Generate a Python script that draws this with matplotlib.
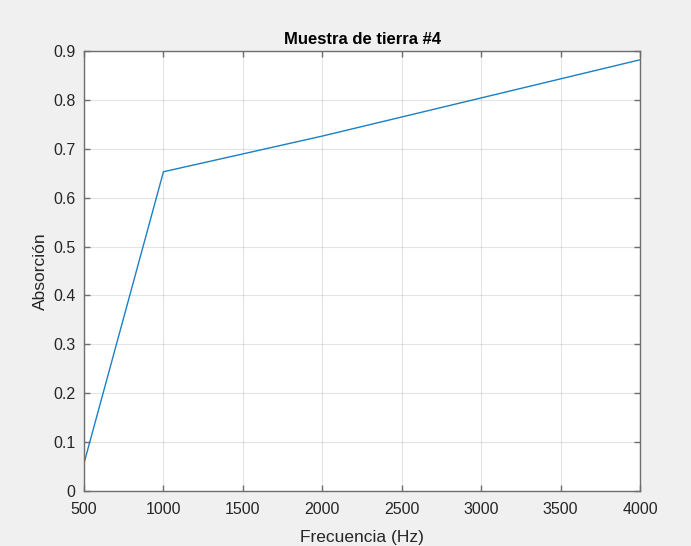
import numpy as np
import matplotlib.pyplot as plt

plt.rcParams['font.family'] = ['Liberation Sans', 'DejaVu Sans']

# Coeficiente de absorción por banda de octava
frecuencia = [500, 1000, 2000, 4000]
absorcion = [0.057, 0.653, 0.726, 0.882]

fig = plt.figure(figsize=(6.91, 5.46), dpi=100, facecolor='#f0f0f0')
ax = fig.add_axes([0.1216, 0.1007, 0.8046, 0.8059])
ax.set_facecolor('white')

ax.plot(frecuencia, absorcion, color='#1a80c4', linewidth=1.0)

ax.set_xlim(500, 4000)
ax.set_ylim(0, 0.9)
ax.set_xticks(np.arange(500, 4001, 500))
ax.set_yticks(np.arange(0, 0.91, 0.1))
ax.set_yticklabels(['0'] + [f'{v:.1f}' for v in np.arange(0.1, 0.91, 0.1)])

ax.grid(True, color='#262626', alpha=0.12, linewidth=0.8)
ax.set_axisbelow(True)
for s in ax.spines.values():
    s.set_color('#6e6e6e')
    s.set_linewidth(1.0)
ax.tick_params(direction='in', top=True, right=True, length=4, width=1.0,
               colors='#6e6e6e', labelcolor='#262626', labelsize=11.5)
ax.tick_params(axis='x', pad=8)
ax.tick_params(axis='y', pad=6)

ax.set_title('Muestra de tierra #4', fontsize=12, fontweight='bold', color='black', pad=5)
ax.set_xlabel('Frecuencia (Hz)', fontsize=12.5, color='#262626', labelpad=9)
ax.set_ylabel('Absorción', fontsize=12.5, color='#262626', labelpad=4)

fig.savefig('out.png', dpi=100, facecolor=fig.get_facecolor())
